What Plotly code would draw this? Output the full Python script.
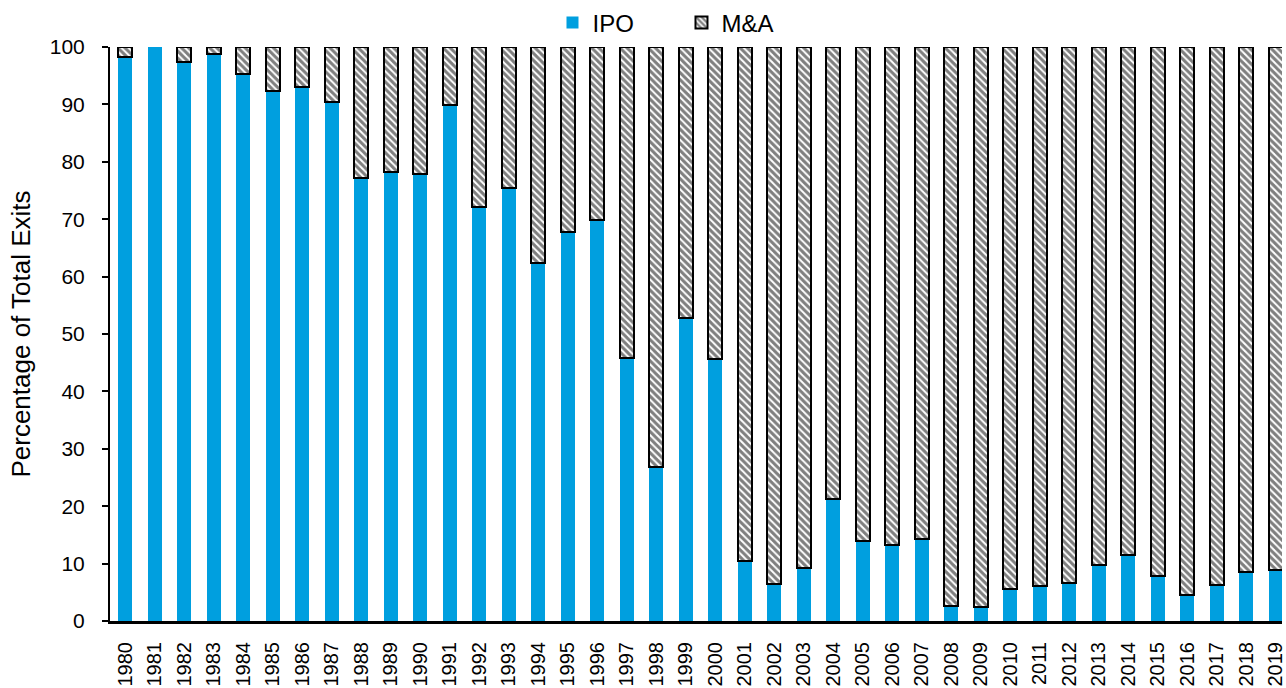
import plotly.graph_objects as go

years = [str(y) for y in range(1980, 2020)]

# IPO share of total venture-backed exits (%), by year
ipo_share = [
    98.2, 100.0, 97.4, 98.8, 95.3, 92.4, 93.1, 90.5, 77.2, 78.2,
    77.8, 89.9, 72.2, 75.5, 62.4, 67.8, 69.8, 45.8, 26.9, 52.8,
    45.6, 10.4, 6.5, 9.2, 21.2, 14.0, 13.2, 14.3, 2.7, 2.4,
    5.6, 6.1, 6.6, 9.7, 11.5, 7.8, 4.6, 6.3, 8.6, 8.9,
]
# M&A makes up the remainder of exits
ma_share = [round(100 - v, 1) for v in ipo_share]
ma_plot = [v if v > 0 else None for v in ma_share]

y_ticks = list(range(0, 101, 10))

BLUE = "#009FDF"
FONT = "Liberation Sans, Arial, sans-serif"

fig = go.Figure()
fig.add_trace(go.Bar(
    x=years, y=ipo_share, name="IPO",
    marker=dict(color=BLUE, line=dict(width=0)),
    width=0.47,
))
fig.add_trace(go.Bar(
    x=years, y=ma_plot, name="M&A",
    marker=dict(
        color="white",
        line=dict(color="black", width=2),
        pattern=dict(shape="\\", fgcolor="black", bgcolor="white",
                     size=5, solidity=0.6),
    ),
    width=0.47,
))

plot_w = 1286 - 110
step = 29.6
x0 = -15.3 / step

fig.update_layout(
    barmode="stack",
    width=1286, height=688,
    margin=dict(l=110, r=0, t=47, b=67, pad=0),
    paper_bgcolor="white", plot_bgcolor="white",
    font=dict(family=FONT, size=20, color="black"),
    showlegend=True,
    legend=dict(
        orientation="h", x=(554 - 110) / plot_w, xanchor="left",
        y=1 + 24 / 574, yanchor="middle",
        font=dict(size=24), entrywidth=84, traceorder="normal",
        bgcolor="rgba(0,0,0,0)",
    ),
    xaxis=dict(
        type="category", range=[x0, x0 + plot_w / step],
        showline=True, linecolor="black", linewidth=3,
        ticks="outside", ticklen=10, tickcolor="rgba(0,0,0,0)",
        tickangle=-90, tickfont=dict(size=20),
        showgrid=False, zeroline=False,
    ),
    yaxis=dict(
        range=[0, 100], tickvals=y_ticks,
        showline=True, linecolor="black", linewidth=2,
        ticks="outside", ticklen=6, tickwidth=2, tickcolor="black",
        ticklabelstandoff=13,
        tickfont=dict(size=21),
        showgrid=False, zeroline=False,
        title=dict(text="Percentage of Total Exits", font=dict(size=26), standoff=12),
    ),
)

fig.write_html("out.html")
